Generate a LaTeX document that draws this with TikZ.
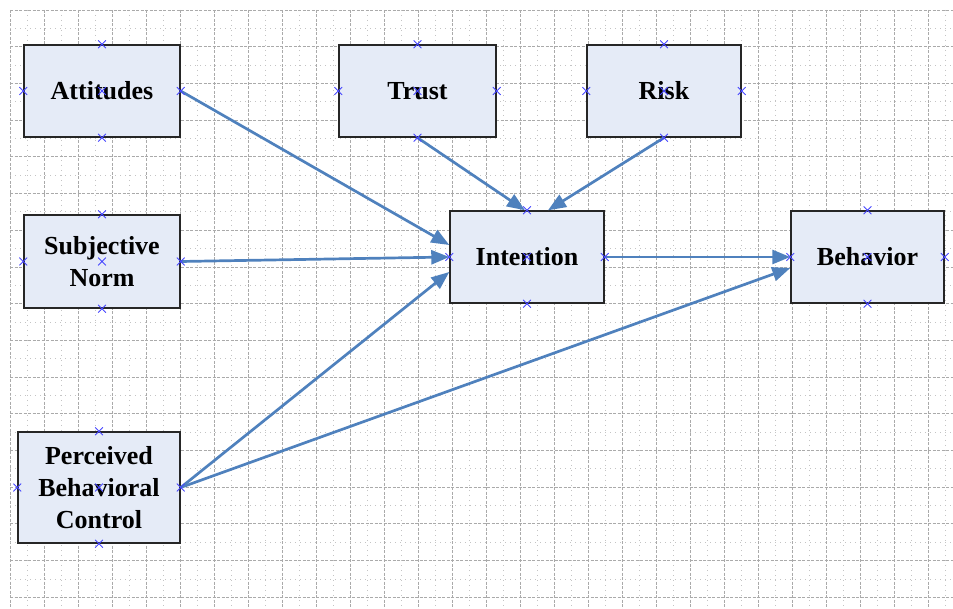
\documentclass[tikz,border=0pt]{standalone}
\usepackage{fontspec}
\setmainfont{Liberation Serif}
\usetikzlibrary{arrows.meta,shapes.misc}
\definecolor{gridgray}{RGB}{170,170,170}
\definecolor{boxfill}{RGB}{229,235,247}
\definecolor{linkblue}{RGB}{79,129,189}
\definecolor{markblue}{RGB}{70,70,255}

\begin{document}
\begin{tikzpicture}[x=1pt,y=-1pt,
  factor/.style={draw=black!85,line width=1.4pt,fill=boxfill,minimum width=156pt,minimum height=92pt,
    inner sep=0pt,align=center,font=\fontsize{26}{32}\selectfont\bfseries},
  link/.style={draw=linkblue,line width=2.7pt,-{Triangle[length=18pt,width=14pt]}},
  xmark/.style={cross out,draw=markblue,line width=0.8pt,minimum size=7pt,inner sep=0pt},
  major/.style={gridgray,line width=0.7pt,dash pattern=on 3pt off 1.5pt},
  minor/.style={gridgray!70,line width=0.7pt,dash pattern=on 0.8pt off 4.2pt}]
\useasboundingbox (0,0) rectangle (953,609);

% background grid
\foreach \i in {0,...,27} {
  \draw[major] (10+34*\i,10) -- (10+34*\i,609);
  \draw[minor] (27+34*\i,10) -- (27+34*\i,609);
}
\foreach \j in {0,...,16} {
  \draw[major] (10,10+36.7*\j) -- (953,10+36.7*\j);
  \draw[minor] (10,28.35+36.7*\j) -- (953,28.35+36.7*\j);
}

% factors
\node[factor] (att) at (102,91) {Attitudes};
\node[factor,minimum width=157pt] (tru) at (417.5,91) {Trust};
\node[factor,minimum width=154pt] (rsk) at (664,91) {Risk};
\node[factor,minimum height=93pt] (snm) at (102,261.5) {Subjective\\Norm};
\node[factor,minimum width=162pt,minimum height=111pt] (pbc) at (99,487.5) {Perceived\\Behavioral\\Control};
\node[factor,minimum width=154pt] (int) at (527,257) {Intention};
\node[factor,minimum width=153pt] (beh) at (867.5,257) {Behavior};

% paths
\draw[link] (att.east) -- ([yshift=12pt]int.west);
\draw[link] (snm.east) -- (int.west);
\draw[link] (pbc.east) -- ([yshift=-15pt]int.west);
\draw[link] (tru.south) -- ([xshift=-2pt]int.north);
\draw[link] (rsk.south) -- ([xshift=21pt]int.north);
\draw[link] (int.east) -- (beh.west);
\draw[link] (pbc.east) -- ([yshift=-11pt]beh.west);

% connection points
\foreach \b in {att,tru,rsk,snm,pbc,int,beh}
  \foreach \a in {north,south,east,west,center}
    \node[xmark] (\b-\a) at (\b.\a) {};
\end{tikzpicture}
\end{document}
